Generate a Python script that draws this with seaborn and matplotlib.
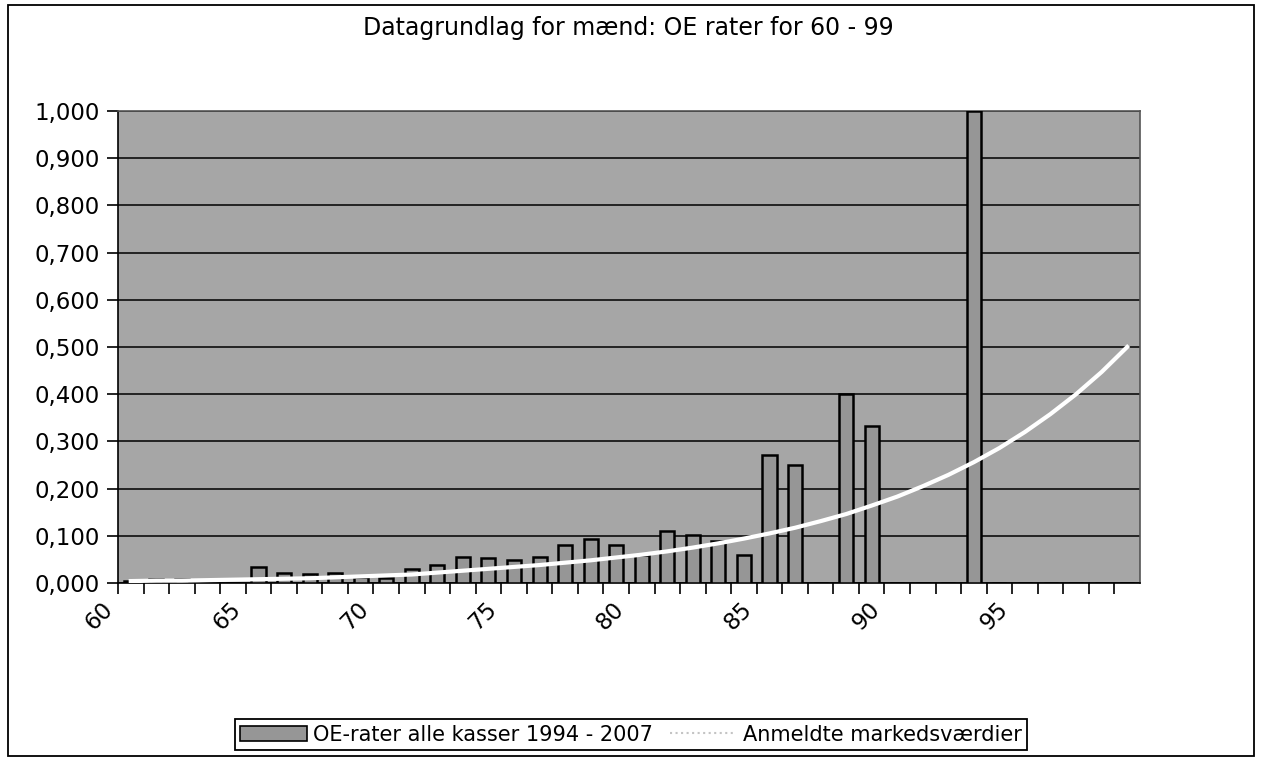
import numpy as np
import pandas as pd
import seaborn as sns
import matplotlib.pyplot as plt
from matplotlib.lines import Line2D
from matplotlib.patches import Patch, Rectangle
from matplotlib.ticker import FuncFormatter

# ages 60 - 99
ages = list(range(60, 100))

# OE-rater alle kasser 1994 - 2007 (0 = no bar)
oe_rates = [0.005, 0.008, 0.008, 0.0, 0.0, 0.033, 0.021, 0.020, 0.021, 0.012,
            0.010, 0.030, 0.038, 0.056, 0.052, 0.048, 0.054, 0.080, 0.093, 0.080,
            0.060, 0.110, 0.102, 0.089, 0.060, 0.272, 0.250, 0.0, 0.400, 0.332,
            0.0, 0.0, 0.0, 1.000, 0.0, 0.0, 0.0, 0.0, 0.0, 0.0]

# Anmeldte markedsværdier
market = [0.004, 0.005, 0.005, 0.006, 0.007, 0.008, 0.009, 0.010, 0.012, 0.014,
          0.016, 0.018, 0.022, 0.026, 0.030, 0.034, 0.038, 0.043, 0.048, 0.054,
          0.060, 0.067, 0.075, 0.084, 0.094, 0.105, 0.117, 0.131, 0.146, 0.164,
          0.183, 0.205, 0.229, 0.256, 0.286, 0.320, 0.358, 0.400, 0.447, 0.500]

df = pd.DataFrame({"alder": ages, "oe": oe_rates, "marked": market})

plt.rcParams['font.family'] = ['DejaVu Sans']
fig = plt.figure(figsize=(12.62, 7.58), dpi=100)
ax = fig.add_axes([0.0935, 0.2309, 0.8098, 0.6227])

bg = "#a6a6a6"
bar_col = "#969696"
ax.set_facecolor(bg)

sns.barplot(data=df, x="alder", y="oe", native_scale=True, width=0.55,
            color=bar_col, edgecolor="black", linewidth=1.8, saturation=1,
            ax=ax, zorder=3)
sns.lineplot(data=df, x="alder", y="marked", color="white", linewidth=3,
             ax=ax, zorder=4)

ax.set_xlim(59.5, 99.5)
ax.set_ylim(0, 1.0)
ax.set_yticks(np.arange(0, 1.01, 0.1))
ax.yaxis.set_major_formatter(FuncFormatter(lambda v, p: f"{v:.3f}".replace(".", ",")))
ax.grid(axis="y", color="black", linewidth=1.1, zorder=1)
ax.set_axisbelow(True)

# ticks on the category boundaries, labels every 5 years
ax.set_xticks([a - 0.5 for a in ages[::5]])
ax.set_xticklabels([str(a) for a in ages[::5]], rotation=45, ha="right",
                   va="bottom", rotation_mode="anchor", fontsize=16.5)
ax.set_xticks([a - 0.5 for a in ages], minor=True)
ax.tick_params(axis="x", which="both", length=8, width=1.2, direction="out", pad=14)
ax.tick_params(axis="y", length=8, width=1.2, labelsize=16.5, pad=5)
ax.set_xlabel("")
ax.set_ylabel("")
for s in ax.spines.values():
    s.set_linewidth(1.2)
    s.set_color("black")
ax.spines["top"].set_color("#555555")
ax.spines["right"].set_color("#555555")

fig.text(0.4976, 0.963, "Datagrundlag for mænd: OE rater for 60 - 99",
         ha="center", va="center", fontsize=17)

handles = [Patch(facecolor=bar_col, edgecolor="black", linewidth=1.2),
           Line2D([0], [0], color="#c4c4c4", linewidth=1.5, linestyle=":")]
leg = fig.legend(handles, ["OE-rater alle kasser 1994 - 2007", "Anmeldte markedsværdier"],
                 loc="center", bbox_to_anchor=(0.5, 0.031), ncol=2, fontsize=15,
                 frameon=True, fancybox=False, edgecolor="black", framealpha=1,
                 handlelength=3.2, handletextpad=0.3, columnspacing=0.8,
                 borderpad=0.25)
leg.get_frame().set_linewidth(1.3)

fig.add_artist(Rectangle((0.0063, 0.002), 0.9874, 0.991, transform=fig.transFigure,
                         fill=False, edgecolor="black", linewidth=1.3))

fig.savefig("out.png", dpi=100)
